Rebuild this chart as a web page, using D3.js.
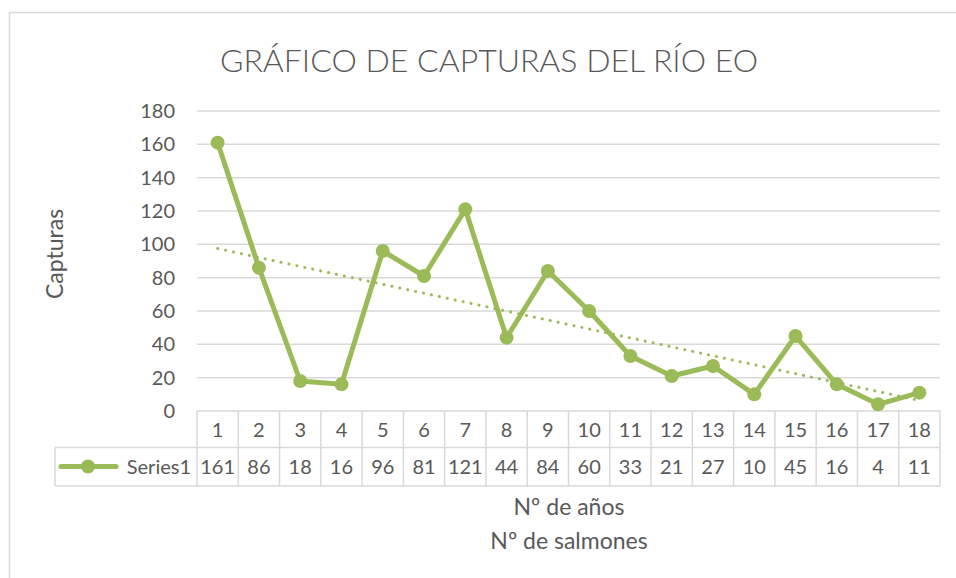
<!DOCTYPE html>
<html><head>
<meta charset="utf-8">
<title>Capturas río Eo</title>
<script src="https://d3js.org/d3.v7.min.js"></script>
<style>
body { margin: 0; background: #fff; font-family: Lato, "Open Sans", sans-serif; }
svg text { fill: #595959; }
</style>
</head>
<body>
<svg id="chart" width="956" height="578"></svg>
<script>
// data
const years = ["1","2","3","4","5","6","7","8","9","10","11","12","13","14","15","16","17","18"];
const catches = [161, 86, 18, 16, 96, 81, 121, 44, 84, 60, 33, 21, 27, 10, 45, 16, 4, 11];
const yTicks = [0, 20, 40, 60, 80, 100, 120, 140, 160, 180];
const seriesName = "Series1";

const green = "#9bbb59";
const grid = "#d9d9d9";
const fs = 20; // table + tick text size

const svg = d3.select("#chart");

// chart frame
svg.append("rect")
    .attr("x", 9.5).attr("y", 12.5)
    .attr("width", 960).attr("height", 580)
    .attr("fill", "none").attr("stroke", grid).attr("stroke-width", 1.5);

const plot = { left: 197, right: 940, top: 111, bottom: 411 };

const x = d3.scaleBand().domain(years).range([plot.left, plot.right]);
const y = d3.scaleLinear().domain([0, 180]).range([plot.bottom, plot.top]);

// title
svg.append("text")
    .attr("x", 489).attr("y", 72)
    .attr("text-anchor", "middle")
    .attr("font-size", 32).attr("font-weight", 300)
    .text("GRÁFICO DE CAPTURAS DEL RÍO EO");

// gridlines
svg.append("g").selectAll("line").data(yTicks.filter(d => d > 0))
    .join("line")
    .attr("x1", plot.left).attr("x2", plot.right)
    .attr("y1", d => y(d)).attr("y2", d => y(d))
    .attr("stroke", grid).attr("stroke-width", 1.5);

// y axis labels
const yAxis = svg.append("g")
    .attr("transform", "translate(" + (plot.left - 22) + ",0)")
    .call(d3.axisLeft(y).tickValues(yTicks).tickSize(0).tickPadding(0));
yAxis.select(".domain").remove();
yAxis.selectAll("text")
    .attr("font-size", fs).attr("font-family", "Lato, 'Open Sans', sans-serif")
    .attr("fill", "#595959");

svg.append("text")
    .attr("transform", "translate(63,254) rotate(-90)")
    .attr("text-anchor", "middle")
    .attr("font-size", 23)
    .text("Capturas");

// data table
const rowTop = plot.bottom, rowMid = 447.5, rowBot = 486;
const tbl = svg.append("g").attr("stroke", grid).attr("stroke-width", 1.5);
tbl.append("line").attr("x1", plot.left).attr("x2", plot.right).attr("y1", rowTop).attr("y2", rowTop);
tbl.append("line").attr("x1", 55).attr("x2", plot.right).attr("y1", rowMid).attr("y2", rowMid);
tbl.append("line").attr("x1", 55).attr("x2", plot.right).attr("y1", rowBot).attr("y2", rowBot);
tbl.append("line").attr("x1", 55).attr("x2", 55).attr("y1", rowMid).attr("y2", rowBot);
tbl.selectAll("line.v").data(years.concat(["end"]))
    .join("line")
    .attr("class", "v")
    .attr("x1", (d, i) => plot.left + i * x.bandwidth())
    .attr("x2", (d, i) => plot.left + i * x.bandwidth())
    .attr("y1", rowTop).attr("y2", rowBot);

svg.append("g").selectAll("text").data(years)
    .join("text")
    .attr("x", d => x(d) + x.bandwidth() / 2)
    .attr("y", 437)
    .attr("text-anchor", "middle")
    .attr("font-size", fs)
    .text(d => d);

svg.append("g").selectAll("text").data(catches)
    .join("text")
    .attr("x", (d, i) => x(years[i]) + x.bandwidth() / 2)
    .attr("y", 474)
    .attr("text-anchor", "middle")
    .attr("font-size", fs)
    .text(d => d);

// legend key in table
svg.append("line")
    .attr("x1", 61).attr("x2", 116).attr("y1", 466.5).attr("y2", 466.5)
    .attr("stroke", green).attr("stroke-width", 5).attr("stroke-linecap", "round");
svg.append("circle").attr("cx", 88).attr("cy", 466.5).attr("r", 7).attr("fill", green);
svg.append("text")
    .attr("x", 191).attr("y", 474)
    .attr("text-anchor", "end")
    .attr("font-size", fs)
    .text(seriesName);

// axis titles
svg.append("text").attr("x", 569).attr("y", 515).attr("text-anchor", "middle")
    .attr("font-size", 23).text("Nº de años");
svg.append("text").attr("x", 569).attr("y", 549).attr("text-anchor", "middle")
    .attr("font-size", 23).text("Nº de salmones");

// linear trendline (least squares fit of the series)
const xs = catches.map((d, i) => i + 1);
const mx = d3.mean(xs), my = d3.mean(catches);
const slope = d3.sum(xs, (v, i) => (v - mx) * (catches[i] - my)) / d3.sum(xs, v => (v - mx) * (v - mx));
const icpt = my - slope * mx;
const cx = i => x(years[i]) + x.bandwidth() / 2;
svg.append("line")
    .attr("x1", cx(0)).attr("x2", cx(years.length - 1))
    .attr("y1", y(icpt + slope * 1)).attr("y2", y(icpt + slope * years.length))
    .attr("stroke", green).attr("stroke-width", 3)
    .attr("stroke-dasharray", "0.1 8").attr("stroke-linecap", "round");

// series line and markers
const line = d3.line().x((d, i) => cx(i)).y(d => y(d));
svg.append("path").datum(catches)
    .attr("d", line)
    .attr("fill", "none").attr("stroke", green)
    .attr("stroke-width", 5).attr("stroke-linejoin", "round");

svg.append("g").selectAll("circle").data(catches)
    .join("circle")
    .attr("cx", (d, i) => cx(i)).attr("cy", d => y(d))
    .attr("r", 7).attr("fill", green);
</script>
</body>
</html>
